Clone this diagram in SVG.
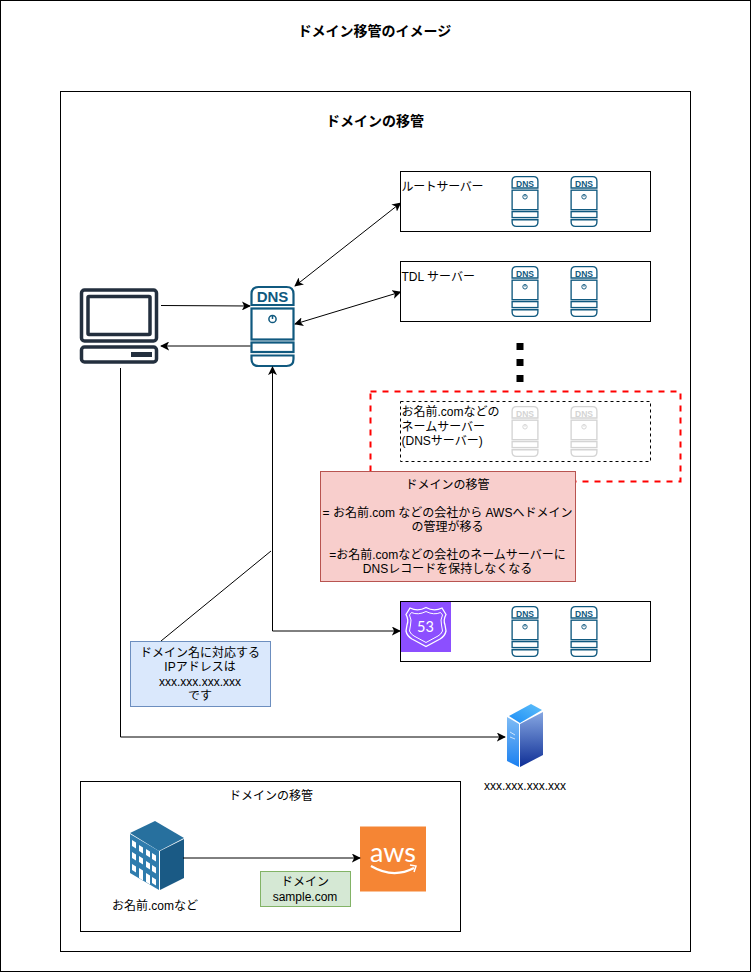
<svg xmlns="http://www.w3.org/2000/svg" width="751" height="972" viewBox="0 0 751 972">
<style>
text{font-family:"Liberation Sans","Noto Sans CJK JP",sans-serif;font-size:12px;fill:#000}
.c{text-anchor:middle}
.b{font-weight:bold}
.box{fill:#fff;stroke:#000;stroke-width:1}
.con{fill:none;stroke:#000;stroke-width:1}
.d{fill:none;stroke:#10597f;stroke-width:2.2}
.dg{fill:none;stroke:#d4d4d4;stroke-width:2.2}
</style>
<defs>
<marker id="a" viewBox="0 0 10 10" refX="9" refY="5" markerWidth="9" markerHeight="9" orient="auto-start-reverse" markerUnits="userSpaceOnUse"><path d="M0 0L10 5L0 10L2.5 5Z" fill="#000"/></marker>
<g id="dns">
<path d="M1 19V8Q1 1 8 1H36Q43 1 43 8V19Z"/><rect x="1" y="22.500" width="42" height="31"/><rect x="1" y="56.500" width="42" height="9.500"/><path d="M1 69.500H43V73Q43 80 36 80H8Q1 80 1 73Z"/>
<circle cx="22" cy="33" r="3.600" stroke-width="1.500"/><path d="M22 29V33" stroke-width="1.500"/>
</g>
<linearGradient id="sf" x1="0" y1="0" x2="0" y2="1"><stop offset="0" stop-color="#7fbcf5"/><stop offset="1" stop-color="#1b80f0"/></linearGradient>
<linearGradient id="sr" x1="0" y1="0" x2="0" y2="1"><stop offset="0" stop-color="#86a7e2"/><stop offset="1" stop-color="#0f2f96"/></linearGradient>
<linearGradient id="st" x1="0" y1="1" x2="1" y2="0"><stop offset="0" stop-color="#1b8cf5"/><stop offset="1" stop-color="#5fc0fa"/></linearGradient>
</defs>
<rect width="751" height="972" fill="#fff"/>
<rect id="frame" class="box" x="0.500" y="0.500" width="750" height="971"/>
<text class="c b" x="374.500" y="36" style="font-size:14px">ドメイン移管のイメージ</text>
<rect id="outer" class="box" x="60.500" y="91.500" width="630" height="860"/>
<text class="c b" x="375" y="125.500" style="font-size:14px">ドメインの移管</text>

<g id="root-server"><rect class="box" x="400.500" y="171.500" width="250" height="60"/><text x="401.500" y="191" textLength="82">ルートサーバー</text>
<use href="#dns" class="d" transform="translate(511.500 176) scale(.614 .63)"/><use href="#dns" class="d" transform="translate(570.500 176) scale(.614 .63)"/>
<text class="c b" x="525" y="187" style="font-size:8.500px;fill:#10597f">DNS</text><text class="c b" x="584" y="187" style="font-size:8.500px;fill:#10597f">DNS</text></g>

<g id="tld-server"><rect class="box" x="400.500" y="261.500" width="250" height="60"/><text x="401.500" y="281">TDL サーバー</text>
<use href="#dns" class="d" transform="translate(511.500 266) scale(.614 .63)"/><use href="#dns" class="d" transform="translate(570.500 266) scale(.614 .63)"/>
<text class="c b" x="525" y="277" style="font-size:8.500px;fill:#10597f">DNS</text><text class="c b" x="584" y="277" style="font-size:8.500px;fill:#10597f">DNS</text></g>

<g id="dots"><rect x="516.500" y="343" width="7" height="7"/><rect x="516.500" y="359" width="7" height="7"/><rect x="516.500" y="375" width="7" height="7"/></g>

<g id="red-area"><rect x="370.500" y="391.500" width="310" height="90" fill="#fff" stroke="#ff0000" stroke-width="2" stroke-dasharray="6 6"/></g>
<g id="name-server"><rect class="box" x="400.500" y="401.500" width="250" height="60" stroke-dasharray="3 3"/><text x="401.500" y="416">お名前.comなどの</text><text x="401.500" y="431">ネームサーバー</text><text x="401.500" y="445">(DNSサーバー)</text>
<use href="#dns" class="dg" transform="translate(511.500 406) scale(.614 .63)"/><use href="#dns" class="dg" transform="translate(570.500 406) scale(.614 .63)"/>
<text class="c b" x="525" y="417" style="font-size:8.500px;fill:#d4d4d4">DNS</text><text class="c b" x="584" y="417" style="font-size:8.500px;fill:#d4d4d4">DNS</text></g>

<g id="note-pink"><rect x="320.500" y="471.500" width="255" height="110" fill="#f8cecc" stroke="#b85450"/>
<text class="c" x="447.500" y="488.500">ドメインの移管</text><text class="c" x="447.500" y="517">= お名前.com などの会社から AWSへドメイン</text><text class="c" x="447.500" y="531">の管理が移る</text><text class="c" x="447.500" y="559">=お名前.comなどの会社のネームサーバーに</text><text class="c" x="447.500" y="573">DNSレコードを保持しなくなる</text></g>

<g id="client" fill="none" stroke="#232f3e" stroke-width="3.500"><rect x="81.500" y="290" width="75" height="51" rx="3"/><rect x="88" y="296.500" width="62" height="38" rx="1"/><rect x="81.500" y="347" width="75" height="15" rx="3"/><rect x="131" y="352" width="21" height="5" fill="#232f3e" stroke="none"/></g>

<g id="resolver"><use href="#dns" class="d" transform="translate(250.500 286)"/><text class="c b" x="272.500" y="302" style="font-size:15px;fill:#10597f">DNS</text></g>

<g id="route53-box"><rect class="box" x="400.500" y="601.500" width="250" height="60"/><rect x="401" y="602" width="50" height="50" fill="#8c4fff"/>
<path d="M426 607.500Q434 612 442 608L446 614.500Q443 620 445 625L446 631Q445 636 440 639L426 646.500L412 639Q407 636 406 631L407 625Q409 620 406 614.500L410 608Q418 612 426 607.500Z" fill="none" stroke="#fff" stroke-width="1.300"/>
<path d="M426 611.500Q434 615.500 440.500 612.500L442.500 615Q440 620 441.500 625L442.500 631Q441 634.500 438 636L426 642.500L414 636Q411 634.500 409.500 631L410.500 625Q412 620 409.500 615L411.500 612.500Q418 615.500 426 611.500Z" fill="none" stroke="#fff" stroke-width="1"/>
<text class="c" x="425.500" y="632" style="font-size:14.500px;fill:#fff;font-family:Lato,sans-serif">53</text>
<use href="#dns" class="d" transform="translate(511.500 606) scale(.614 .63)"/><use href="#dns" class="d" transform="translate(570.500 606) scale(.614 .63)"/>
<text class="c b" x="525" y="617" style="font-size:8.500px;fill:#10597f">DNS</text><text class="c b" x="584" y="617" style="font-size:8.500px;fill:#10597f">DNS</text></g>

<g id="note-blue"><rect x="130.500" y="641.500" width="140" height="65" fill="#dae8fc" stroke="#6c8ebf"/><text class="c" x="200" y="657">ドメイン名に対応する</text><text class="c" x="200" y="671">IPアドレスは</text><text class="c" x="200" y="686">xxx.xxx.xxx.xxx</text><text class="c" x="200" y="700">です</text></g>

<g id="web-server"><path d="M507 717L519 724V767L507 761Z" fill="url(#sf)"/><path d="M520 724L543 712V755L520 767Z" fill="url(#sr)"/><path d="M509 716L531 704L542 710L520 723Z" fill="url(#st)"/><path d="M510 732L515 735M510 737L515 739" stroke="#fff" stroke-width=".7"/><text class="c" x="525" y="790" style="font-size:12px">xxx.xxx.xxx.xxx</text></g>

<g id="transfer"><rect x="80.500" y="781.500" width="380" height="150" fill="none" stroke="#000"/><text class="c" x="271" y="800">ドメインの移管</text></g>

<g id="registrar"><path d="M130 833L155 821L184 838L159 851Z" fill="#27709e"/><path d="M130 834L159 851V890L130 873Z" fill="#2f7cad"/><path d="M160 851L184 839V878L160 890Z" fill="#1a5a85"/>
<g fill="#fff"><path d="M132 840l4 2.500v6l-4-2.500zM139 845l4 2.500v6l-4-2.500zM146 849l4 2.500v6l-4-2.500zM152 853l4 2.500v6l-4-2.500zM132 852l4 2.500v6l-4-2.500zM139 856l4 2.500v6l-4-2.500zM146 861l4 2.500v6l-4-2.500zM152 865l4 2.500v6l-4-2.500zM132 864l4 2.500v6l-4-2.500zM139 868l4 2.500v10l-4-2.500zM146 873l4 2.500v9l-4-2.500zM152 877l4 2.500v6l-4-2.500z"/></g>
<text class="c" x="155" y="910">お名前.comなど</text></g>

<g id="aws"><rect x="360" y="826.500" width="66" height="65" fill="#f58534"/><text class="c" x="393" y="862" style="font-size:27px;fill:#fff;font-family:Lato,sans-serif">aws</text><path d="M371 866Q393 879 414 868" fill="none" stroke="#fff" stroke-width="2.200"/><path d="M410 865L416 866L414 872" fill="none" stroke="#fff" stroke-width="1.500"/></g>

<g id="note-green"><rect x="260.500" y="871.500" width="90" height="35" fill="#d5e8d4" stroke="#82b366"/><text class="c" x="305" y="886">ドメイン</text><text class="c" x="305" y="901">sample.com</text></g>

<g id="connectors">
<path class="con" d="M161 305.500L250 306" marker-end="url(#a)"/>
<path class="con" d="M250.500 346H161" marker-end="url(#a)"/>
<path class="con" d="M295 286L400.500 203" marker-start="url(#a)" marker-end="url(#a)"/>
<path class="con" d="M295 324L400.500 292" marker-start="url(#a)" marker-end="url(#a)"/>
<path class="con" d="M272.500 367V631H400" marker-start="url(#a)" marker-end="url(#a)"/>
<path class="con" d="M271 551L161 641"/>
<path class="con" d="M120.500 368V737H505" marker-end="url(#a)"/>
<path class="con" d="M183 858H360" marker-end="url(#a)"/>
</g>
</svg>
